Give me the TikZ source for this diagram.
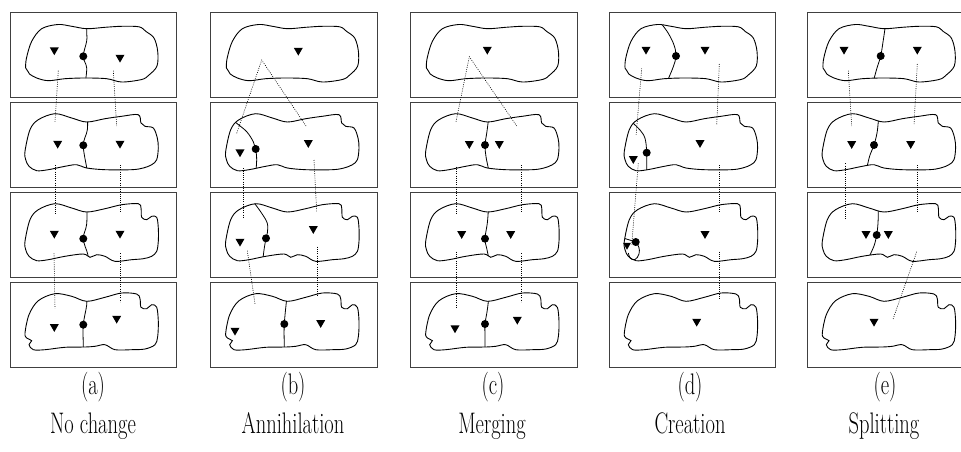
\documentclass[tikz,border=0pt]{standalone}
\usetikzlibrary{shapes.geometric}

% region outlines, one per time step (coordinates relative to the frame's top-left corner)
\newcommand\blobone{plot[smooth cycle, tension=0.55] coordinates {(15.7,56) (16.5,46) (21.7,29.3) (31.7,16.7) (48,12.5) (61.7,14.3) (76.7,16.7) (95,15.3) (111.7,14.3) (129,14.8) (136,19.5) (144,26) (147.7,39.3) (147,54) (139,63) (131.7,67.5) (111.7,70) (96.7,66.7) (75,66) (55,66.7) (38.3,68.7) (26.7,66) (19.5,62) (17.5,58.7)}}
\newcommand\blobtwo{plot[smooth cycle, tension=0.55] coordinates {(15,49.3) (20,27.7) (28.3,17.7) (45,11.7) (61.7,16) (76.7,20) (95,16.7) (111.7,14.3) (128.3,12.7) (131,21) (135,24.3) (143.3,26) (147.3,36) (148.3,46) (146.7,57.7) (141.7,62.7) (133.3,66) (121.7,67.7) (95,67.7) (76.7,66) (66.7,62.7) (55,64.3) (38.3,67.7) (26.7,68.7) (19,64.3) (15.7,57.7)}}
\newcommand\blobthree{plot[smooth cycle, tension=0.55] coordinates {(15,49.3) (20,27.7) (28.3,17.7) (45,11.7) (61.7,16) (76.7,20) (95,16.7) (111.7,12.7) (128.3,11.7) (131,16) (131.7,25.3) (136.7,27.7) (141.7,24.3) (146.7,25.3) (148.3,36) (148.3,49.3) (146.7,59.3) (141.7,64.3) (133.3,66.7) (121.7,67.7) (105,69.3) (95,64.3) (86.7,62.7) (80,65.3) (73.3,62) (55,64.3) (38.3,67.7) (26.7,68.7) (19,64.3) (15.7,57.7)}}
\newcommand\blobfour{plot[smooth cycle, tension=0.55] coordinates {(15,51) (19,32.7) (28.3,18.7) (45,11.7) (61.7,14.3) (76.7,19.3) (95,15.3) (111.7,11) (126.7,12) (130,16.7) (131,25.3) (136.7,26.7) (141.7,22.7) (146.7,25.3) (148.3,39.3) (147.7,54.3) (145,62.7) (135,67) (121.7,67.7) (105,67.7) (95,62.7) (85,64.3) (75,65) (55,65.3) (35,67.7) (23.3,67.7) (19,62.7) (21.7,58.7) (16.7,56)}}

% a boundary wall, cut to the inside of a region: #1 shift, #2 region, #3 points
\newcommand\cutwall[3]{%
  \begin{scope}
    \clip[shift={#1}] #2;
    \draw[wall] plot[smooth, tension=0.6] coordinates {#3};
  \end{scope}}

% caption text, set tall
\newcommand\captext[1]{\scalebox{1}[1.45]{#1}}

\begin{document}
\begin{tikzpicture}[
  x=1pt, y=-1pt,
  frame/.style={draw=black!75, line width=0.9pt},
  outline/.style={draw=black, line width=0.9pt},
  wall/.style={draw=black, line width=0.8pt},
  trace/.style={draw=black, line width=0.6pt, dash pattern=on 0.9pt off 1.3pt},
  tri/.style={regular polygon, regular polygon sides=3, shape border rotate=180,
              fill=black, inner sep=0pt, minimum size=10.4pt, yshift=1.3pt},
  dot/.style={circle, fill=black, inner sep=0pt, minimum size=8pt},
  lbl/.style={font=\fontsize{20.5}{24}\selectfont, anchor=base, inner sep=0pt},
]
\clip (0,0) rectangle (961,452);
\fill[white] (0,0) rectangle (961,452);

% frames and region outlines for the five sequences
\foreach \bx in {10,210.7,410.7,609.3,807.3} {
  \draw[frame] (\bx,12)  rectangle ++(166.5,85.5);
  \draw[frame] (\bx,102) rectangle ++(166.5,85.5);
  \draw[frame] (\bx,192) rectangle ++(166.5,85.5);
  \draw[frame] (\bx,282) rectangle ++(166.5,85.5);
  \draw[outline, shift={(\bx,12)}]  \blobone;
  \draw[outline, shift={(\bx,102)}] \blobtwo;
  \draw[outline, shift={(\bx,192)}] \blobthree;
  \draw[outline, shift={(\bx,282)}] \blobfour;
}

% ---------- (a) no change ----------
\cutwall{(10,12)}{\blobone}{(87,22) (86.7,32) (86.7,41) (83.3,56.3) (86.7,68) (85,84)}
\cutwall{(10,102)}{\blobtwo}{(87.5,114) (87.3,130) (83.3,145.3) (86.7,168) (87,175)}
\cutwall{(10,192)}{\blobthree}{(86.7,204) (86.7,224) (83.3,238.7) (87.7,254) (88.5,262)}
\cutwall{(10,282)}{\blobfour}{(86.7,293) (86.7,305) (83.3,324.7) (83.3,347) (83.3,354)}
\node[tri] (a1l) at (54.3,51.3) {};  \node[dot] (a1d) at (83.3,56.3) {};  \node[tri] (a1r) at (120,58.7) {};
\node[tri] (a2l) at (57.7,144.7) {}; \node[dot] (a2d) at (83.3,145.3) {}; \node[tri] (a2r) at (120,144.7) {};
\node[tri] (a3l) at (54.3,234.7) {}; \node[dot] (a3d) at (83.3,238.7) {}; \node[tri] (a3r) at (120,234.7) {};
\node[tri] (a4l) at (54.3,328) {};   \node[dot] (a4d) at (83.3,324.7) {}; \node[tri] (a4r) at (116.7,319.7) {};
\draw[trace] (58.3,70.7) -- (55,121.7);  \draw[trace] (113.3,70.7) -- (116.7,126);
\draw[trace] (55,165) -- (55,215);       \draw[trace] (120,165) -- (120,213.3);
\draw[trace] (54,253.3) -- (55,308.3);   \draw[trace] (120,253.3) -- (120,301.7);

% ---------- (b) annihilation ----------
\cutwall{(210.7,102)}{\blobtwo}{(232,119) (236.7,123.3) (246.7,131.7) (253.3,141.7) (255.7,149) (256.7,160) (256,170) (256,177)}
\cutwall{(210.7,192)}{\blobthree}{(251,199) (255,204) (261.7,213.3) (267.3,223.3) (267.3,233.3) (266,238.3) (264,250) (262.7,261.7) (262,268)}
\cutwall{(210.7,282)}{\blobfour}{(287.5,286) (287.3,292.7) (284.3,324) (284.3,346.7) (284.3,353)}
\node[tri] (b1) at (298.3,51.7) {};
\node[tri] (b2l) at (240,153.3) {}; \node[dot] (b2d) at (255.7,149) {}; \node[tri] (b2r) at (308.3,144) {};
\node[tri] (b3l) at (240,242.7) {}; \node[dot] (b3d) at (266,238.3) {}; \node[tri] (b3r) at (313.3,230) {};
\node[tri] (b4l) at (235,331.7) {}; \node[dot] (b4d) at (284.3,324) {}; \node[tri] (b4r) at (320.7,324) {};
\draw[trace] (236.7,133.3) -- (261.7,60) -- (306,126);
\draw[trace] (243.3,168.3) -- (243.3,218.3); \draw[trace] (314,160) -- (316.7,211.7);
\draw[trace] (247.3,250.7) -- (255,304);     \draw[trace] (317.3,246.7) -- (317.3,296.7);

% ---------- (c) merging ----------
\cutwall{(410.7,102)}{\blobtwo}{(488.5,114) (488.3,120.7) (486.7,133.3) (485,145) (486,156.7) (488.3,168.3) (489,175)}
\cutwall{(410.7,192)}{\blobthree}{(488.5,204) (488.3,210.7) (487.3,223.3) (485,238.7) (486.7,248.3) (488.3,256) (489,263)}
\cutwall{(410.7,282)}{\blobfour}{(488.5,295) (488.3,301.7) (487,312) (485,324) (485,336) (485,346.7) (485,353)}
\node[tri] (c1) at (487.3,50.7) {};
\node[tri] (c2l) at (469.3,145) {}; \node[dot] (c2d) at (485,145) {};   \node[tri] (c2r) at (499.3,145) {};
\node[tri] (c3l) at (461.7,235) {}; \node[dot] (c3d) at (485,238.7) {}; \node[tri] (c3r) at (510.7,235) {};
\node[tri] (c4l) at (455,329.3) {}; \node[dot] (c4d) at (485,324) {};   \node[tri] (c4r) at (517.3,320.7) {};
\draw[trace] (456,121.7) -- (469.3,56.7) -- (516.7,126);
\draw[trace] (456,166.7) -- (456,215);     \draw[trace] (521.7,165) -- (521.7,213.3);
\draw[trace] (456,251.7) -- (456,308.3);   \draw[trace] (521.7,253.3) -- (521.7,301.7);

% ---------- (d) creation ----------
\cutwall{(609.3,12)}{\blobone}{(659,19) (661.7,24) (668.3,33.3) (674,45) (676,56) (673.3,66.7) (668.3,79) (666.5,85)}
\cutwall{(609.3,102)}{\blobtwo}{(630,119) (633.3,123.3) (640,130) (645,138.3) (646.7,152.7) (646.7,171.7) (646.7,177)}
\cutwall{(609.3,192)}{\blobthree}{(620,237) (628,239.5) (635.7,242)}
\draw[wall] plot[smooth, tension=0.7] coordinates {(635.7,242.3) (638.8,247) (639,254) (635,259.5) (630,258) (628.5,253)};
\node[tri] (d1l) at (646,50.7) {};  \node[dot] (d1d) at (676,56) {};    \node[tri] (d1r) at (705,50.7) {};
\node[tri] (d2l) at (633.3,160) {}; \node[dot] (d2d) at (646.7,152.7) {}; \node[tri] (d2r) at (700,144) {};
\node[tri, minimum size=9pt] (d3l) at (627,246.5) {}; \node[dot] (d3d) at (635.7,242) {}; \node[tri] (d3r) at (705,235) {};
\node[tri] (d4) at (696.7,322.7) {};
\draw[trace] (641.7,68.3) -- (636,136);    \draw[trace] (719.3,64) -- (716.7,125);
\draw[trace] (638.3,163.3) -- (631.7,244.7); \draw[trace] (719.3,165) -- (719.3,213.3);
\draw[trace] (719.3,251.7) -- (719.3,300);

% ---------- (e) splitting ----------
\cutwall{(807.3,12)}{\blobone}{(885.5,22) (885,28.3) (883,42) (880.7,56) (877,68) (874,79) (873,85)}
\cutwall{(807.3,102)}{\blobtwo}{(879,115) (878.3,121.7) (877,133) (874,145) (870,155) (867.3,165.7) (866,172)}
\cutwall{(807.3,192)}{\blobthree}{(878.5,204) (878.3,210.7) (878,223) (876.7,235) (874,246) (870,255) (868,262)}
\node[tri] (e1l) at (844,50.7) {};  \node[dot] (e1d) at (880.7,56) {};  \node[tri] (e1r) at (917.3,50.7) {};
\node[tri] (e2l) at (851.7,145) {}; \node[dot] (e2d) at (874,145) {};   \node[tri] (e2r) at (910.7,145) {};
\node[tri] (e3l) at (866,235) {};   \node[dot] (e3d) at (876.7,235) {}; \node[tri] (e3r) at (888.3,235) {};
\node[tri] (e4) at (874,322.7) {};
\draw[trace] (848.3,70.7) -- (851.7,126);  \draw[trace] (917.3,64) -- (914,125);
\draw[trace] (845,163.3) -- (845,220);     \draw[trace] (917.3,165) -- (917.3,213.3);
\draw[trace] (916.7,251.7) -- (892.7,320);

% ---------- captions ----------
\node[lbl] (la) at (93,394) {\captext{(a)}};  \node[lbl] (na) at (93,433) {\captext{No change}};
\node[lbl] (lb) at (293,394) {\captext{(b)}}; \node[lbl] (nb) at (293,433) {\captext{Annihilation}};
\node[lbl] (lc) at (493,394) {\captext{(c)}}; \node[lbl] (nc) at (492,433) {\captext{Merging}};
\node[lbl] (ld) at (690,394) {\captext{(d)}}; \node[lbl] (nd) at (690,433) {\captext{Creation}};
\node[lbl] (le) at (885,394) {\captext{(e)}}; \node[lbl] (ne) at (884,433) {\captext{Splitting}};
\end{tikzpicture}
\end{document}
